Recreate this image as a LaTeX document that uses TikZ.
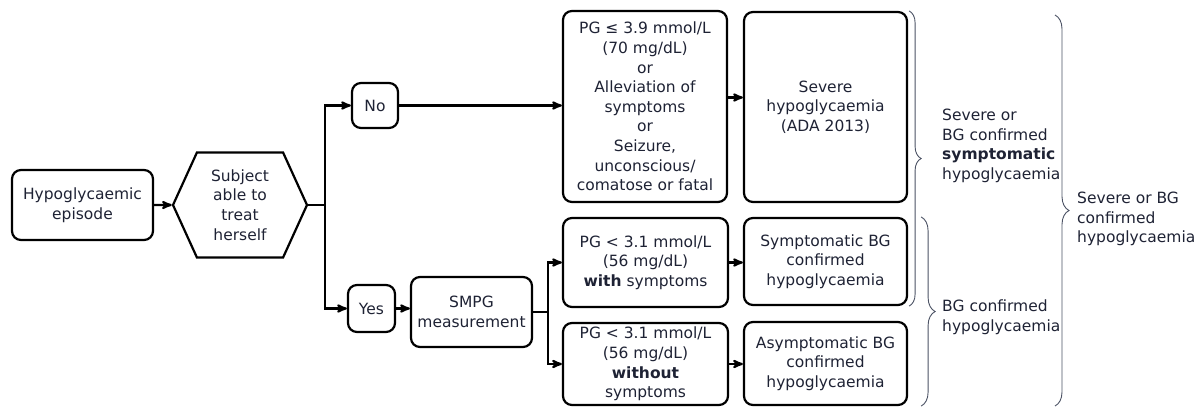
\documentclass[tikz,border=0pt]{standalone}
\usepackage{fontspec}
\setmainfont{DejaVu Sans}
\usetikzlibrary{arrows}
\usetikzlibrary{shapes.symbols}
\usetikzlibrary{decorations.pathreplacing}
\definecolor{ink}{RGB}{30, 34, 52}
\definecolor{bracegrey}{RGB}{75, 82, 100}

\begin{document}
\begin{tikzpicture}[x=1pt,y=-1pt,>={stealth'[scale=1.3]},
        font=\fontsize{15.5}{19.6}\selectfont,
        box/.style={draw, line width=2.2pt, rounded corners=9pt, align=center, text=ink, inner sep=2pt},
        flow/.style={->, line width=2.2pt},
        curly/.style={decorate, decoration={brace, amplitude=#1}, bracegrey, line width=0.9pt},
        tag/.style={anchor=west, align=left, text=ink, inner sep=0pt}]
    \useasboundingbox (0,0) rectangle (1202,407);

    % left part
    \node[box, minimum width=141pt, minimum height=70pt] (episode) at (82.5,205) {Hypoglycaemic\\episode};
    \node[draw, line width=2.2pt, signal, signal to=west and east, signal pointer angle=131,
          minimum width=134pt, minimum height=105pt, align=center, text=ink, inner sep=0pt] (treat) at (240,205) {Subject\\able to\\treat\\herself};
    \node[box, minimum width=46pt, minimum height=45pt] (no) at (375,105.5) {No};
    \node[box, minimum width=47pt, minimum height=47pt] (yes) at (371.5,308.5) {Yes};
    \node[box, minimum width=121pt, minimum height=70pt] (smpg) at (471.5,312) {SMPG\\measurement};

    % criteria
    \node[box, minimum width=164pt, minimum height=191pt] (pgsev) at (645,106.5) {PG ≤ 3.9 mmol/L\\(70 mg/dL)\\or\\Alleviation of\\symptoms\\or\\Seizure,\\unconscious/\\comatose or fatal};
    \node[box, minimum width=165pt, minimum height=89pt] (pgwith) at (645.5,262.5) {PG < 3.1 mmol/L\\(56 mg/dL)\\\textbf{with} symptoms};
    \node[box, minimum width=165pt, minimum height=82pt] (pgwithout) at (645.5,364) {PG < 3.1 mmol/L\\(56 mg/dL)\\\textbf{without}\\symptoms};

    % outcomes
    \node[box, minimum width=163pt, minimum height=190pt] (severe) at (825.5,107) {Severe\\hypoglycaemia\\(ADA 2013)};
    \node[box, minimum width=163pt, minimum height=87pt] (symp) at (825.5,261.5) {Symptomatic BG\\confirmed\\hypoglycaemia};
    \node[box, minimum width=163pt, minimum height=83pt] (asymp) at (825.5,363.5) {Asymptomatic BG\\confirmed\\hypoglycaemia};

    % arrows
    \coordinate (fork) at (325,205);
    \coordinate (fork2) at (548,312);
    \draw[flow] (episode) -- (treat);
    \draw[line width=2.2pt] (treat.east) -- (fork);
    \draw[flow] (fork) |- (no);
    \draw[flow] (fork) |- (yes);
    \draw[flow] (no) -- (no -| pgsev.west);
    \draw[flow] (yes) -- (yes -| smpg.west);
    \draw[line width=2.2pt] (smpg.east) -- (fork2);
    \draw[flow] (fork2) |- (pgwith);
    \draw[flow] (fork2) |- (pgwithout);
    \draw[flow] ([yshift=9pt]pgsev.east) -- ([yshift=9pt]pgsev.east -| severe.west);
    \draw[flow] (pgwith) -- (pgwith -| symp.west);
    \draw[flow] (pgwithout) -- (pgwithout -| asymp.west);

    % braces
    \draw[curly=12pt] ([xshift=1pt]severe.north east) -- ([xshift=1pt]symp.south east);
    \draw[curly=14pt] ([xshift=13pt]symp.north east) -- ([xshift=13pt]asymp.south east);
    \draw[curly=14pt] (1055,15) -- (1055,406);

    \node[tag] (sevsym) at (942,146) {Severe or\\BG confirmed\\\textbf{symptomatic}\\hypoglycaemia};
    \node[tag] (bgconf) at (942,317) {BG confirmed\\hypoglycaemia};
    \node[tag] (sevbg) at (1077,219) {Severe or BG\\confirmed\\hypoglycaemia};
\end{tikzpicture}
\end{document}
